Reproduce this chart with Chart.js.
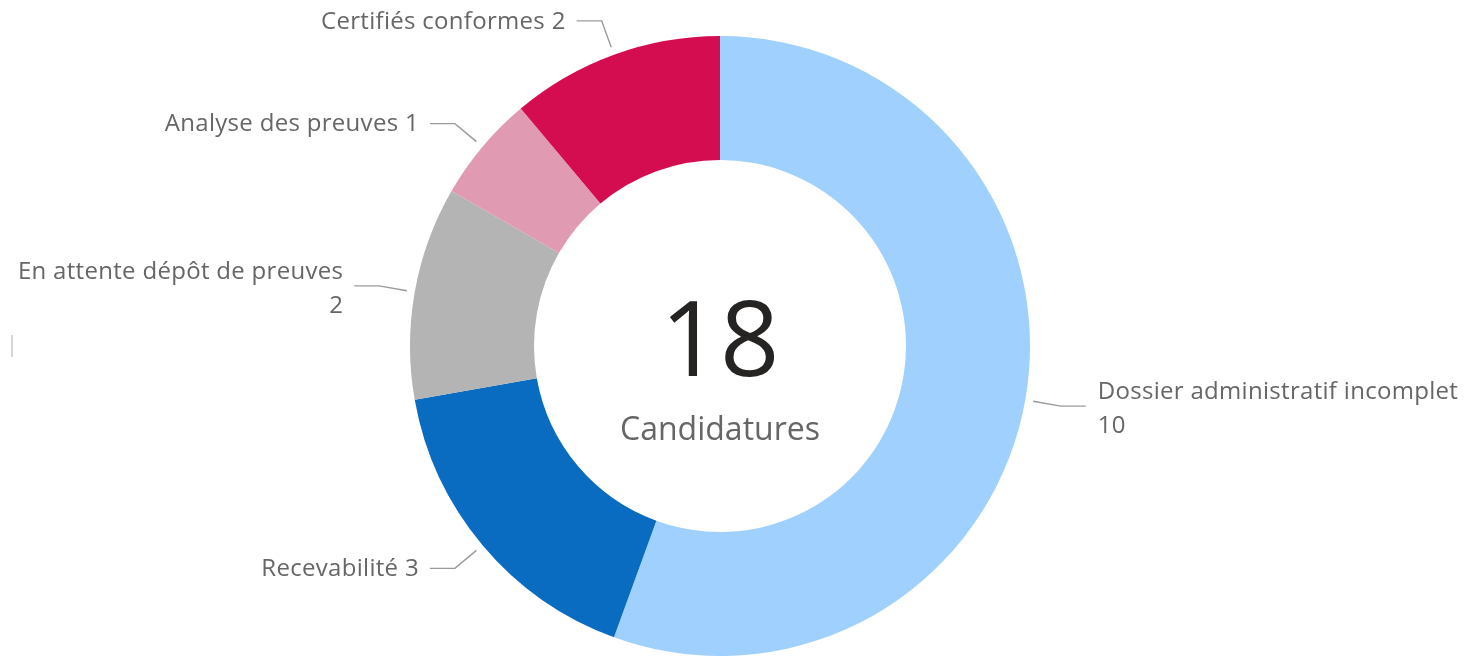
<!DOCTYPE html>
<html>
<head>
<meta charset="utf-8">
<script src="https://cdn.jsdelivr.net/npm/chart.js@4.4.1/dist/chart.umd.min.js"></script>
<style>
html,body{margin:0;padding:0;background:#fff;}
#wrap{position:relative;width:1466px;height:660px;}
</style>
</head>
<body>
<div id="wrap"><canvas id="c" width="1466" height="660"></canvas></div>
<script>
const categories = ["Dossier administratif incomplet", "Recevabilité", "En attente dépôt de preuves", "Analyse des preuves", "Certifiés conformes"];
const values = [10, 3, 2, 1, 2];
const colors = ["#a0d0fd", "#0a6cc1", "#b4b4b4", "#e09ab2", "#d40c50"];
const centerLabel = "Candidatures";

const total = values.reduce((a, b) => a + b, 0);
const FONT = '"Open Sans", "Noto Sans", sans-serif';

const labelPlugin = {
  id: 'leaderLabels',
  afterDraw(chart) {
    const ctx = chart.ctx;
    const meta = chart.getDatasetMeta(0);
    const cw = chart.width;
    ctx.save();
    meta.data.forEach((arc, i) => {
      const p = arc.getProps(['x', 'y', 'startAngle', 'endAngle', 'outerRadius'], true);
      const mid = (p.startAngle + p.endAngle) / 2;
      const cos = Math.cos(mid), sin = Math.sin(mid);
      const r0 = p.outerRadius + 8, r1 = p.outerRadius + 36;
      const x0 = p.x + cos * r0, y0 = p.y + sin * r0;
      const x1 = p.x + cos * r1, y1 = p.y + sin * r1;
      const right = cos >= 0;
      const x2 = x1 + (right ? 25 : -25);
      ctx.strokeStyle = '#9a9a9a';
      ctx.lineWidth = 1.4;
      ctx.beginPath();
      ctx.moveTo(x0, y0);
      ctx.lineTo(x1, y1);
      ctx.lineTo(x2, y1);
      ctx.stroke();

      ctx.font = '24px ' + FONT;
      if ('letterSpacing' in ctx) ctx.letterSpacing = '0.3px';
      ctx.fillStyle = '#666666';
      ctx.textBaseline = 'middle';
      ctx.textAlign = right ? 'left' : 'right';
      const tx = x2 + (right ? 12 : -11);
      const full = categories[i] + ' ' + values[i];
      const avail = right ? (cw - tx - 4) : (tx - 4);
      if (ctx.measureText(full).width + 16 <= avail) {
        ctx.fillText(full, tx, y1 + 1);
      } else {
        ctx.fillText(categories[i], tx, y1 - 14);
        ctx.fillText(String(values[i]), tx, y1 + 20);
      }
    });
    if ('letterSpacing' in ctx) ctx.letterSpacing = '0px';

    // center text
    const c = meta.data[0];
    ctx.textAlign = 'center';
    ctx.textBaseline = 'alphabetic';
    ctx.fillStyle = '#252423';
    ctx.font = '104px ' + FONT;
    ctx.fillText(String(total), c.x, c.y + 30);
    ctx.fillStyle = '#666666';
    ctx.font = '32px ' + FONT;
    ctx.fillText(centerLabel, c.x, c.y + 94);

    // small artifact line at left edge
    ctx.strokeStyle = '#c8c8c8';
    ctx.lineWidth = 1.5;
    ctx.beginPath();
    ctx.moveTo(12, 335);
    ctx.lineTo(12, 357);
    ctx.stroke();
    ctx.restore();
  }
};

new Chart(document.getElementById('c'), {
  type: 'doughnut',
  data: {
    labels: categories,
    datasets: [{
      data: values,
      backgroundColor: colors,
      borderWidth: 0,
      hoverOffset: 0
    }]
  },
  options: {
    responsive: false,
    animation: false,
    cutout: '60%',
    layout: { padding: { top: 36, bottom: 4, left: 100, right: 126 } },
    plugins: {
      legend: { display: false },
      tooltip: { enabled: false }
    },
    events: []
  },
  plugins: [labelPlugin]
});
</script>
</body>
</html>
